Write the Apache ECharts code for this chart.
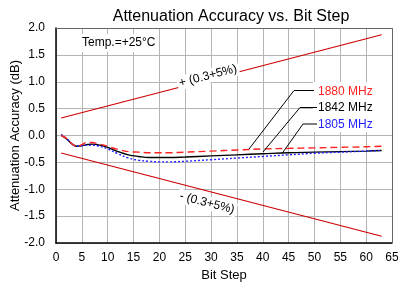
<!DOCTYPE html>
<html>
<head>
<meta charset="utf-8">
<script src="https://cdn.jsdelivr.net/npm/echarts@6/dist/echarts.min.js"></script>
<style>
  html, body { margin: 0; padding: 0; background: #fff; }
  #chart { width: 399px; height: 283px; }
</style>
</head>
<body>
<div id="chart"></div>
<script>
var steps = [1, 2, 3, 4, 5, 6, 7, 8, 10, 12, 14, 16, 18, 20, 22, 25, 30, 35, 40, 45, 50, 55, 60, 63];
var mhz1880 = [0, -0.05, -0.15, -0.2, -0.17, -0.13, -0.13, -0.15, -0.2, -0.26, -0.3, -0.31, -0.32, -0.32, -0.32, -0.31, -0.29, -0.27, -0.25, -0.24, -0.23, -0.22, -0.21, -0.2];
var mhz1842 = [0, -0.06, -0.15, -0.2, -0.19, -0.17, -0.16, -0.17, -0.22, -0.3, -0.36, -0.39, -0.41, -0.41, -0.41, -0.4, -0.38, -0.36, -0.34, -0.32, -0.31, -0.3, -0.29, -0.28];
var mhz1805 = [0.02, -0.05, -0.15, -0.2, -0.19, -0.18, -0.18, -0.19, -0.25, -0.34, -0.42, -0.46, -0.48, -0.49, -0.49, -0.48, -0.45, -0.42, -0.39, -0.36, -0.33, -0.31, -0.29, -0.28];

// spec limit lines, +/-(0.3 dB + 5%)
var limitSteps = [1, 63];
var upperLimit = [0.325, 1.875];
var lowerLimit = [-0.325, -1.875];

var xTicks = [0, 5, 10, 15, 20, 25, 30, 35, 40, 45, 50, 55, 60, 65];
var yTicks = [-2, -1.5, -1, -0.5, 0, 0.5, 1, 1.5, 2];

function pairs(xs, ys) {
  return xs.map(function (x, i) { return [x, ys[i]]; });
}

var font = 'Liberation Sans, Arial, sans-serif';
var chart = echarts.init(document.getElementById('chart'));

chart.setOption({
  animation: false,
  textStyle: { fontFamily: font },
  title: {
    text: 'Attenuation Accuracy vs. Bit Step',
    left: 226, top: 4, textAlign: 'center',
    textStyle: { fontSize: 16, fontWeight: 'normal', color: '#000', fontFamily: font }
  },
  grid: { left: 56, right: 7, top: 28, bottom: 40, outerBoundsMode: 'none' },
  xAxis: {
    type: 'value', min: xTicks[0], max: xTicks[xTicks.length - 1], interval: 5,
    name: 'Bit Step', nameLocation: 'middle', nameGap: 23,
    nameTextStyle: { fontSize: 13, color: '#000' },
    axisLine: { show: true, onZero: false, lineStyle: { color: '#000', width: 1.5 } },
    axisTick: { show: false },
    axisLabel: { fontSize: 12, color: '#000', margin: 9 },
    splitLine: { show: true, lineStyle: { color: '#b4b4b4', width: 1 } }
  },
  yAxis: {
    type: 'value', min: yTicks[0], max: yTicks[yTicks.length - 1], interval: 0.5,
    name: 'Attenuation Accuracy (dB)', nameLocation: 'middle', nameGap: 34, nameMoveOverlap: false,
    nameTextStyle: { fontSize: 13, color: '#000' },
    axisLine: { show: true, onZero: false, lineStyle: { color: '#000', width: 1.5 } },
    axisTick: { show: false },
    axisLabel: { fontSize: 12, color: '#000', margin: 11, formatter: function (v) { return v.toFixed(1); } },
    splitLine: { show: true, lineStyle: { color: '#b4b4b4', width: 1 } }
  },
  series: [
    { type: 'line', data: pairs(limitSteps, upperLimit), symbol: 'none', lineStyle: { color: '#cc0000', width: 1.2 } },
    { type: 'line', data: pairs(limitSteps, lowerLimit), symbol: 'none', lineStyle: { color: '#cc0000', width: 1.2 } },
    { type: 'line', name: '1842 MHz', data: pairs(steps, mhz1842), smooth: 0.4, symbol: 'none', lineStyle: { color: '#000', width: 1.4 } },
    { type: 'line', name: '1805 MHz', data: pairs(steps, mhz1805), smooth: 0.4, symbol: 'none', lineStyle: { color: '#2222ff', width: 1.4, type: [2, 2] } },
    { type: 'line', name: '1880 MHz', data: pairs(steps, mhz1880), smooth: 0.4, symbol: 'none', lineStyle: { color: '#ff2222', width: 1.4, type: [7, 4] } }
  ],
  graphic: [
    // top/right frame
    { type: 'polyline', z: 1, shape: { points: [[56, 28.5], [392.5, 28.5], [392.5, 243]] }, style: { stroke: '#666', lineWidth: 1, fill: null } },
    { type: 'text', z: 100, x: 80, y: 43, style: { text: 'Temp.=+25°C', font: '12px ' + font, fill: '#000', verticalAlign: 'middle', backgroundColor: '#fff', padding: [3, 2] } },
    { type: 'text', z: 100, x: 208, y: 76, rotation: 0.255, style: { text: '+ (0.3+5%)', font: '12px ' + font, fill: '#000', align: 'center', verticalAlign: 'middle', backgroundColor: '#fff', padding: [1, 2] } },
    { type: 'text', z: 100, x: 207, y: 203, rotation: -0.255, style: { text: '- (0.3+5%)', font: '12px ' + font, fill: '#000', align: 'center', verticalAlign: 'middle', backgroundColor: '#fff', padding: [1, 2] } },
    { type: 'rect', z: 100, shape: { x: 313, y: 82, width: 79, height: 50 }, style: { fill: '#fff' } },
    { type: 'text', z: 101, x: 318, y: 91.5, style: { text: '1880 MHz', font: '12px ' + font, fill: '#ff2222', verticalAlign: 'middle' } },
    { type: 'text', z: 101, x: 318, y: 108, style: { text: '1842 MHz', font: '12px ' + font, fill: '#000', verticalAlign: 'middle' } },
    { type: 'text', z: 101, x: 318, y: 124.5, style: { text: '1805 MHz', font: '12px ' + font, fill: '#2222ff', verticalAlign: 'middle' } },
    { type: 'polyline', z: 101, shape: { points: [[314, 90.5], [294, 90.5], [249, 149]] }, style: { stroke: '#000', lineWidth: 1, fill: null } },
    { type: 'polyline', z: 101, shape: { points: [[317, 107.5], [300, 107.5], [263, 152]] }, style: { stroke: '#000', lineWidth: 1, fill: null } },
    { type: 'polyline', z: 101, shape: { points: [[317, 124], [303, 124], [282, 153.5]] }, style: { stroke: '#000', lineWidth: 1, fill: null } }
  ]
});
</script>
</body>
</html>
